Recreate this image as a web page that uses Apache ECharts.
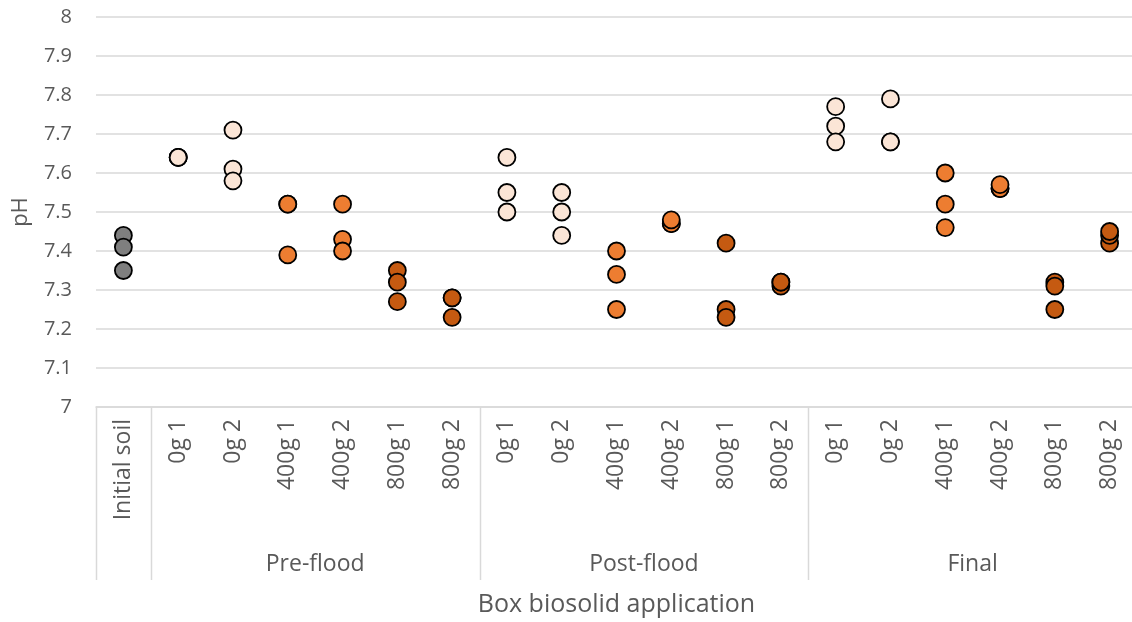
<!DOCTYPE html>
<html>
<head>
<meta charset="utf-8">
<script src="https://cdn.jsdelivr.net/npm/echarts@6/dist/echarts.min.js"></script>
<style>
html,body{margin:0;padding:0;background:#fff;}
#chart{width:1132px;height:622px;}
</style>
</head>
<body>
<div id="chart"></div>
<script>
// ---- data ----
const xLabels = ['Initial soil',
  '0g 1','0g 2','400g 1','400g 2','800g 1','800g 2',
  '0g 1','0g 2','400g 1','400g 2','800g 1','800g 2',
  '0g 1','0g 2','400g 1','400g 2','800g 1','800g 2'];
const groupNames = ['', 'Pre-flood', 'Post-flood', 'Final'];
const groupSpans = [1, 6, 6, 6];
const yTicks = [7, 7.1, 7.2, 7.3, 7.4, 7.5, 7.6, 7.7, 7.8, 7.9, 8];

const initialSoil = [[7.44, 7.41, 7.35]];
const preFlood = [[7.64, 7.64, 7.64], [7.71, 7.61, 7.58], [7.52, 7.52, 7.39], [7.52, 7.43, 7.40], [7.35, 7.32, 7.27], [7.28, 7.28, 7.23]];
const postFlood = [[7.64, 7.55, 7.50], [7.55, 7.50, 7.44], [7.40, 7.34, 7.25], [7.47, 7.47, 7.48], [7.42, 7.25, 7.23], [7.31, 7.32, 7.32]];
const finalVals = [[7.77, 7.72, 7.68], [7.79, 7.68, 7.68], [7.60, 7.52, 7.46], [7.56, 7.56, 7.57], [7.32, 7.31, 7.25], [7.42, 7.44, 7.45]];

const treatments = ['Initial', '0g', '400g', '800g'];
const colors = ['#7f7f7f', '#fbe5d6', '#ed7d31', '#c55a11'];

// ---- build series ----
const allCats = [initialSoil, preFlood, postFlood, finalVals];
const buckets = [[], [], [], []];
let idx = 0;
allCats.forEach((grp, gi) => {
  grp.forEach((vals, k) => {
    const t = gi === 0 ? 0 : 1 + Math.floor(k / 2);
    vals.forEach(v => buckets[t].push([idx, v]));
    idx++;
  });
});

const FONT = 'Open Sans';
const chart = echarts.init(document.getElementById('chart'), null, {renderer: 'canvas'});
const option = {
  animation: false,
  backgroundColor: '#ffffff',
  grid: {left: 96, right: -5, top: 17, bottom: 215, containLabel: false, outerBoundsMode: 'none'},
  xAxis: {
    type: 'category',
    data: xLabels,
    boundaryGap: true,
    axisLine: {show: true, lineStyle: {color: '#d9d9d9', width: 1.5}},
    axisTick: {show: false},
    axisLabel: {rotate: 90, color: '#595959', fontFamily: FONT, fontSize: 23, margin: 12, interval: 0},
    name: 'Box biosolid application',
    nameLocation: 'middle',
    nameGap: 185,
    nameTextStyle: {color: '#595959', fontFamily: FONT, fontSize: 25}
  },
  yAxis: {
    type: 'value',
    min: yTicks[0],
    max: yTicks[yTicks.length - 1],
    interval: 0.1,
    axisLine: {show: false},
    axisTick: {show: false},
    splitLine: {lineStyle: {color: '#d9d9d9', width: 1.5}},
    axisLabel: {color: '#595959', fontFamily: FONT, fontSize: 20, margin: 24,
      formatter: v => String(Math.round(v * 10) / 10)},
    name: 'pH',
    nameLocation: 'middle',
    nameGap: 64,
    nameTextStyle: {color: '#595959', fontFamily: FONT, fontSize: 22}
  },
  series: buckets.map((d, i) => ({
    name: treatments[i],
    type: 'scatter',
    data: d,
    symbol: 'circle',
    symbolSize: 17,
    itemStyle: {color: colors[i], borderColor: '#000', borderWidth: 1.8, opacity: 1}
  }))
};
chart.setOption(option);

// ---- multi-level axis decorations computed from the axis scale ----
const p0 = chart.convertToPixel({xAxisIndex: 0}, 0);
const p1 = chart.convertToPixel({xAxisIndex: 0}, 1);
const band = p1 - p0;
const yAxisPix = chart.convertToPixel({yAxisIndex: 0}, yTicks[0]);
const lineBottom = yAxisPix + 173;
const labelY = yAxisPix + 157;
const gfx = [];
let start = 0;
const edges = [0];
groupSpans.forEach(s => { start += s; edges.push(start); });
edges.forEach(e => {
  const x = Math.round(p0 - band / 2 + e * band) + 0.5;
  gfx.push({type: 'line', silent: true,
    shape: {x1: x, y1: yAxisPix, x2: x, y2: lineBottom},
    style: {stroke: '#d9d9d9', lineWidth: 1.5}});
});
groupNames.forEach((g, i) => {
  if (!g) return;
  const cx = p0 - band / 2 + (edges[i] + edges[i + 1]) / 2 * band;
  gfx.push({type: 'text', silent: true, x: cx, y: labelY,
    style: {text: g, fill: '#595959', font: '23px "Open Sans"', align: 'center', verticalAlign: 'middle'}});
});
chart.setOption({graphic: gfx});
</script>
</body>
</html>
